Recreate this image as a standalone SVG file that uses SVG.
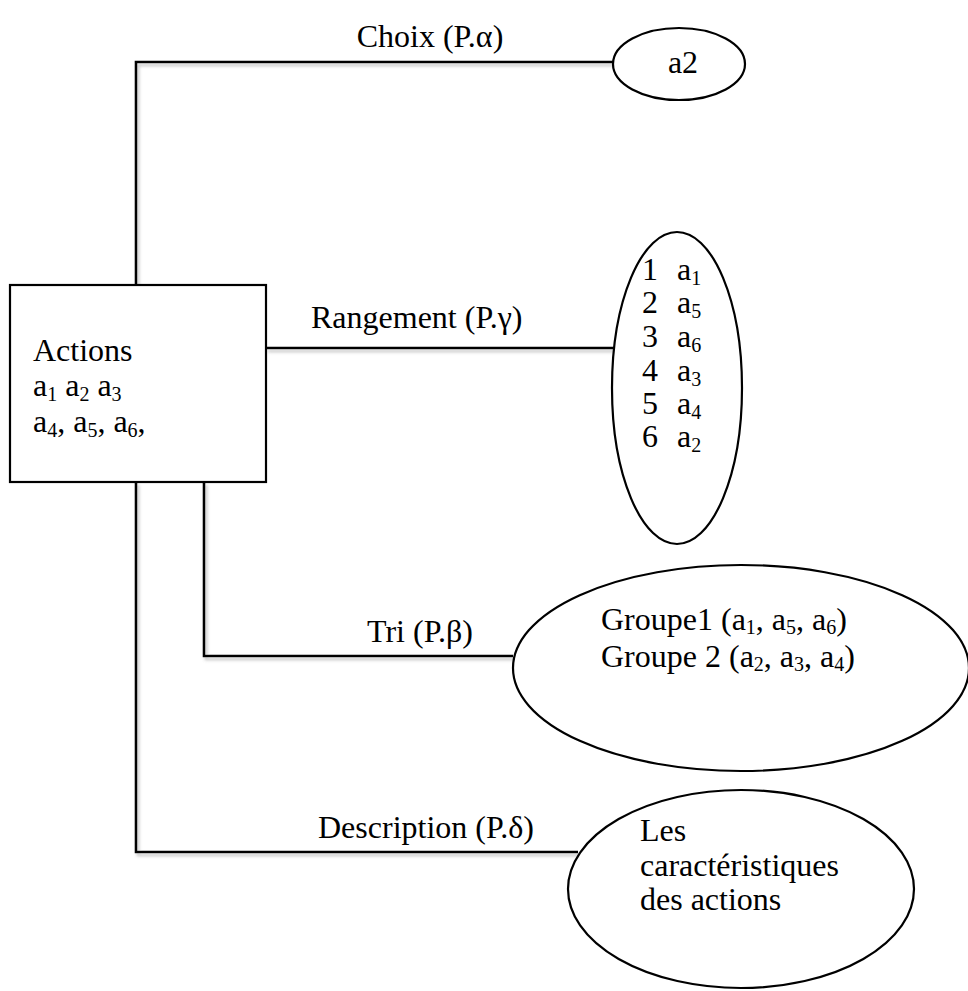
<svg xmlns="http://www.w3.org/2000/svg" width="968" height="991" viewBox="0 0 968 991">
  <style>
    .shape { fill: #ffffff; stroke: #000000; stroke-width: 2.2; }
    .link { fill: none; stroke: #000000; stroke-width: 2.6; }
    text { font-family: "Liberation Serif", "Times New Roman", serif; font-size: 32px; fill: #000000; }
    .sub { font-size: 20px; }
  </style>
  <defs>
    <filter id="soft-shadow" x="-5%" y="-5%" width="110%" height="110%">
      <feDropShadow dx="2" dy="3" stdDeviation="1.5" flood-color="#808080" flood-opacity="0.45"/>
    </filter>
  </defs>

  <rect width="968" height="991" fill="#ffffff"/>

  <!-- connectors from the action set to each problem type -->
  <g id="connectors" filter="url(#soft-shadow)">
    <polyline class="link" points="136,285 136,62 613,62"/>
    <line class="link" x1="266" y1="348" x2="614" y2="348"/>
    <polyline class="link" points="204,482 204,656 513,656"/>
    <polyline class="link" points="136,482 136,852 578,852"/>
  </g>

  <!-- connector labels -->
  <g id="labels">
    <text x="430" y="47" text-anchor="middle">Choix (P.α)</text>
    <text x="311" y="328">Rangement (P.γ)</text>
    <text x="367" y="642">Tri (P.β)</text>
    <text x="318" y="838">Description (P.δ)</text>
  </g>

  <!-- set of actions -->
  <g id="actions">
    <rect class="shape" x="10" y="285" width="256" height="197"/>
    <text x="33" y="361">Actions</text>
    <text x="33" y="396">a<tspan class="sub" dy="5">1</tspan><tspan dy="-5"> a</tspan><tspan class="sub" dy="5">2</tspan><tspan dy="-5"> a</tspan><tspan class="sub" dy="5">3</tspan></text>
    <text x="33" y="432">a<tspan class="sub" dy="5">4</tspan><tspan dy="-5">, a</tspan><tspan class="sub" dy="5">5</tspan><tspan dy="-5">, a</tspan><tspan class="sub" dy="5">6</tspan><tspan dy="-5">,</tspan></text>
  </g>

  <!-- choice result -->
  <g id="choix">
    <ellipse class="shape" cx="679" cy="64" rx="66" ry="36"/>
    <text x="683" y="73" text-anchor="middle">a2</text>
  </g>

  <!-- ranking result -->
  <g id="rangement">
    <ellipse class="shape" cx="677" cy="388" rx="65" ry="156"/>
    <g>
      <text x="642" y="280">1</text>
      <text x="642" y="313">2</text>
      <text x="642" y="347">3</text>
      <text x="642" y="381">4</text>
      <text x="642" y="414">5</text>
      <text x="642" y="447">6</text>
      <text x="677" y="280">a<tspan class="sub" dy="5">1</tspan></text>
      <text x="677" y="313">a<tspan class="sub" dy="5">5</tspan></text>
      <text x="677" y="347">a<tspan class="sub" dy="5">6</tspan></text>
      <text x="677" y="381">a<tspan class="sub" dy="5">3</tspan></text>
      <text x="677" y="414">a<tspan class="sub" dy="5">4</tspan></text>
      <text x="677" y="447">a<tspan class="sub" dy="5">2</tspan></text>
    </g>
  </g>

  <!-- sorting result -->
  <g id="tri">
    <ellipse class="shape" cx="741" cy="668" rx="228" ry="103"/>
    <text x="601" y="630">Groupe1 (a<tspan class="sub" dy="4">1</tspan><tspan dy="-4">, a</tspan><tspan class="sub" dy="4">5</tspan><tspan dy="-4">, a</tspan><tspan class="sub" dy="4">6</tspan><tspan dy="-4">)</tspan></text>
    <text x="601" y="667">Groupe 2 (a<tspan class="sub" dy="4">2</tspan><tspan dy="-4">, a</tspan><tspan class="sub" dy="4">3</tspan><tspan dy="-4">, a</tspan><tspan class="sub" dy="4">4</tspan><tspan dy="-4">)</tspan></text>
  </g>

  <!-- description result -->
  <g id="description">
    <ellipse class="shape" cx="741" cy="889" rx="173" ry="99"/>
    <text x="640" y="841">Les</text>
    <text x="640" y="876">caractéristiques</text>
    <text x="640" y="910">des actions</text>
  </g>
</svg>
